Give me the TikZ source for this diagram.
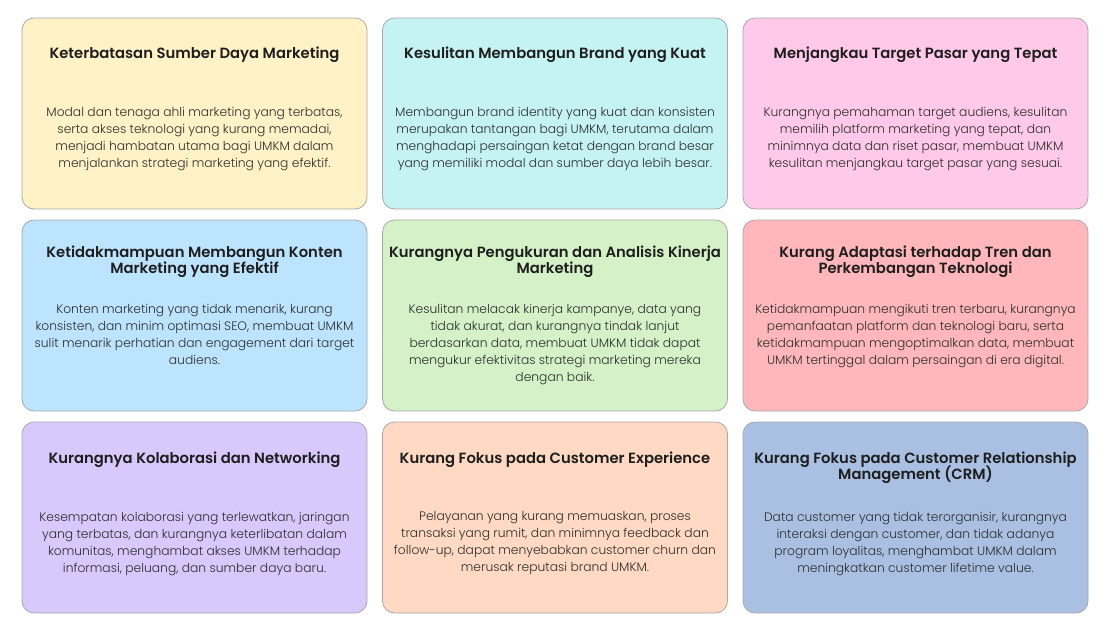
\documentclass[tikz,border=0pt]{standalone}
\usepackage{fontspec}
\setmainfont{Poppins}[BoldFont={* SemiBold}]
\newfontfamily\bodyfont{Poppins}[UprightFont={* Light}]
\usetikzlibrary{positioning}
\newcommand\titlelines{\lineskiplimit=-20pt\relax}

\definecolor{cardLine}{HTML}{A8A8A8}
\definecolor{textDark}{HTML}{1E1E1E}
\definecolor{textBody}{HTML}{2E2E2E}
\definecolor{cardYellow}{HTML}{FFF2C6}
\definecolor{cardCyan}{HTML}{C5F3F3}
\definecolor{cardPink}{HTML}{FFC9EA}
\definecolor{cardBlue}{HTML}{BDE4FF}
\definecolor{cardGreen}{HTML}{D4F1C8}
\definecolor{cardRed}{HTML}{FFB7BB}
\definecolor{cardLilac}{HTML}{D9C8FC}
\definecolor{cardPeach}{HTML}{FFD9C3}
\definecolor{cardSteel}{HTML}{A9C0E3}

\begin{document}
\begin{tikzpicture}[node distance=202pt and 360.5pt,on grid,
    card/.style={draw=cardLine,line width=0.8pt,rounded corners=12pt,
      minimum width=345pt,minimum height=191pt,inner sep=0pt},
    title/.style={anchor=north,align=center,inner sep=0pt,text=textDark,
      font=\fontsize{14.8}{16}\selectfont\bfseries\titlelines},
    body/.style={anchor=north,align=center,inner sep=0pt,text=textBody,
      font=\bodyfont\fontsize{12.3}{17}\selectfont}]
  \useasboundingbox (0,0) rectangle (1110pt,-624pt);

  % cards
  \node[card,fill=cardYellow] (c1) at (194.5pt,-113.5pt) {};
  \node[card,fill=cardCyan]   (c2) [right=of c1] {};
  \node[card,fill=cardPink]   (c3) [right=of c2] {};
  \node[card,fill=cardBlue]   (c4) [below=of c1] {};
  \node[card,fill=cardGreen]  (c5) [right=of c4] {};
  \node[card,fill=cardRed]    (c6) [right=of c5] {};
  \node[card,fill=cardLilac]  (c7) [below=of c4] {};
  \node[card,fill=cardPeach]  (c8) [right=of c7] {};
  \node[card,fill=cardSteel]  (c9) [right=of c8] {};

  % row 1
  \node[title] (t1) at ([yshift=-29pt]c1.north) {Keterbatasan Sumber Daya Marketing};
  \node[body]  (b1) at ([yshift=-89pt]c1.north) {Modal dan tenaga ahli marketing yang terbatas,\\serta akses teknologi yang kurang memadai,\\menjadi hambatan utama bagi UMKM dalam\\menjalankan strategi marketing yang efektif.};
  \node[title] (t2) at ([yshift=-29pt]c2.north) {Kesulitan Membangun Brand yang Kuat};
  \node[body]  (b2) at ([yshift=-89pt]c2.north) {Membangun brand identity yang kuat dan konsisten\\merupakan tantangan bagi UMKM, terutama dalam\\menghadapi persaingan ketat dengan brand besar\\yang memiliki modal dan sumber daya lebih besar.};
  \node[title] (t3) at ([yshift=-29pt]c3.north) {Menjangkau Target Pasar yang Tepat};
  \node[body]  (b3) at ([yshift=-89pt]c3.north) {Kurangnya pemahaman target audiens, kesulitan\\memilih platform marketing yang tepat, dan\\minimnya data dan riset pasar, membuat UMKM\\kesulitan menjangkau target pasar yang sesuai.};

  % row 2
  \node[title] (t4) at ([yshift=-26pt]c4.north) {Ketidakmampuan Membangun Konten\\Marketing yang Efektif};
  \node[body]  (b4) at ([yshift=-84pt]c4.north) {Konten marketing yang tidak menarik, kurang\\konsisten, dan minim optimasi SEO, membuat UMKM\\sulit menarik perhatian dan engagement dari target\\audiens.};
  \node[title] (t5) at ([yshift=-26pt]c5.north) {Kurangnya Pengukuran dan Analisis Kinerja\\Marketing};
  \node[body]  (b5) at ([yshift=-84pt]c5.north) {Kesulitan melacak kinerja kampanye, data yang\\tidak akurat, dan kurangnya tindak lanjut\\berdasarkan data, membuat UMKM tidak dapat\\mengukur efektivitas strategi marketing mereka\\dengan baik.};
  \node[title] (t6) at ([yshift=-26pt]c6.north) {Kurang Adaptasi terhadap Tren dan\\Perkembangan Teknologi};
  \node[body]  (b6) at ([yshift=-84pt]c6.north) {Ketidakmampuan mengikuti tren terbaru, kurangnya\\pemanfaatan platform dan teknologi baru, serta\\ketidakmampuan mengoptimalkan data, membuat\\UMKM tertinggal dalam persaingan di era digital.};

  % row 3
  \node[title] (t7) at ([yshift=-30pt]c7.north) {Kurangnya Kolaborasi dan Networking};
  \node[body]  (b7) at ([yshift=-90pt]c7.north) {Kesempatan kolaborasi yang terlewatkan, jaringan\\yang terbatas, dan kurangnya keterlibatan dalam\\komunitas, menghambat akses UMKM terhadap\\informasi, peluang, dan sumber daya baru.};
  \node[title] (t8) at ([yshift=-30pt]c8.north) {Kurang Fokus pada Customer Experience};
  \node[body]  (b8) at ([yshift=-90pt]c8.north) {Pelayanan yang kurang memuaskan, proses\\transaksi yang rumit, dan minimnya feedback dan\\follow-up, dapat menyebabkan customer churn dan\\merusak reputasi brand UMKM.};
  \node[title] (t9) at ([yshift=-30pt]c9.north) {Kurang Fokus pada Customer Relationship\\Management (CRM)};
  \node[body]  (b9) at ([yshift=-90pt]c9.north) {Data customer yang tidak terorganisir, kurangnya\\interaksi dengan customer, dan tidak adanya\\program loyalitas, menghambat UMKM dalam\\meningkatkan customer lifetime value.};
\end{tikzpicture}
\end{document}
